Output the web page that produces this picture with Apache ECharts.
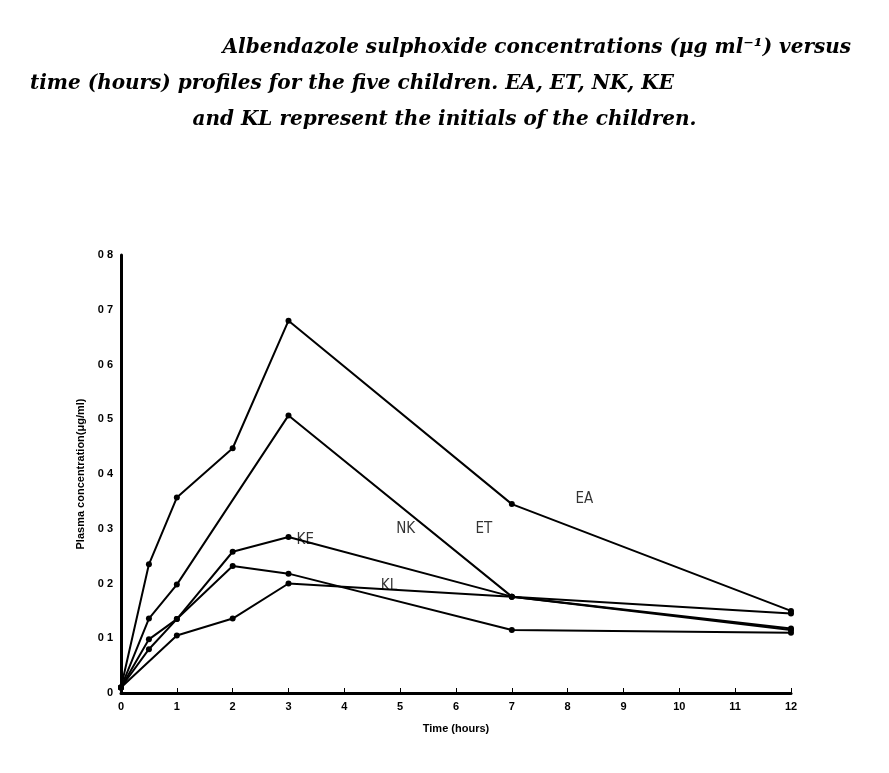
<!DOCTYPE html>
<html><head><meta charset="utf-8">
<script src="https://cdn.jsdelivr.net/npm/echarts@6/dist/echarts.min.js"></script>
<style>html,body{margin:0;padding:0;background:#fff}#c{width:889px;height:773px}</style>
</head><body><div id="c"></div>
<script>
const EA = [[0,0.01],[0.5,0.235],[1,0.357],[2,0.447],[3,0.68],[7,0.345],[12,0.15]];
const ET = [[0,0.01],[0.5,0.136],[1,0.198],[3,0.507],[7,0.176],[12,0.115]];
const NK = [[0,0.01],[0.5,0.098],[1,0.135],[2,0.258],[3,0.285],[7,0.176],[12,0.118]];
const KE = [[0,0.01],[0.5,0.08],[1,0.135],[2,0.232],[3,0.218],[7,0.115],[12,0.11]];
const KL = [[0,0.01],[1,0.105],[2,0.136],[3,0.2],[7,0.176],[12,0.145]];
const labels = [["EA",8.3,0.355],["ET",6.5,0.3],["NK",5.1,0.3],["KE",3.3,0.28],["KL",4.8,0.195]];
const titleLines = ["Albendazole sulphoxide concentrations (μg ml⁻¹) versus",
  "time (hours) profiles for the five children. EA, ET, NK, KE",
  "and KL represent the initials of the children."];
const yTickLabels = {0:"0",0.1:"0 1",0.2:"0 2",0.3:"0 3",0.4:"0 4",0.5:"0 5",0.6:"0 6",0.7:"0 7",0.8:"0 8"};

const ch = echarts.init(document.getElementById('c'));
const mk = d => ({type:'line',data:d,symbol:'circle',symbolSize:6,
  lineStyle:{color:'#000',width:2},itemStyle:{color:'#000'},animation:false});
const series = [EA,ET,NK,KE,KL].map(mk);
series.push({type:'scatter',data:labels.map(l=>[l[1],l[2],l[0]]),symbolSize:0,
  label:{show:true,formatter:p=>p.data[2],color:'#000',fontSize:15,fontFamily:'DejaVu Sans Condensed'},animation:false});
const tfont = 'italic bold 20px "DejaVu Serif"';
ch.setOption({
  graphic:[
    {type:'text',right:38,top:38,style:{text:titleLines[0],font:tfont,fill:'#000'}},
    {type:'text',left:30,top:74,style:{text:titleLines[1],font:tfont,fill:'#000'}},
    {type:'text',left:'center',top:110,style:{text:titleLines[2],font:tfont,fill:'#000'}}
  ],
  grid:{left:121,right:98,top:255,bottom:80},
  xAxis:{type:'value',min:0,max:12,interval:1,name:'Time (hours)',nameLocation:'middle',nameGap:30,
    nameTextStyle:{fontSize:11,color:'#000',fontWeight:'bold'},
    axisLine:{lineStyle:{color:'#000',width:3}},axisTick:{show:true,inside:true,lineStyle:{color:'#000'}},
    axisLabel:{color:'#000',fontWeight:'bold',fontSize:11},splitLine:{show:false}},
  yAxis:{type:'value',min:0,max:0.8,interval:0.1,name:'Plasma concentration(μg/ml)',nameLocation:'middle',nameGap:30,
    nameTextStyle:{fontSize:11,color:'#000',fontWeight:'bold'},
    axisLine:{show:true,lineStyle:{color:'#000',width:3}},axisTick:{show:false},
    axisLabel:{color:'#000',fontWeight:'bold',fontSize:11,formatter:v=>yTickLabels[Math.round(v*10)/10]},splitLine:{show:false}},
  series
});
</script></body></html>
